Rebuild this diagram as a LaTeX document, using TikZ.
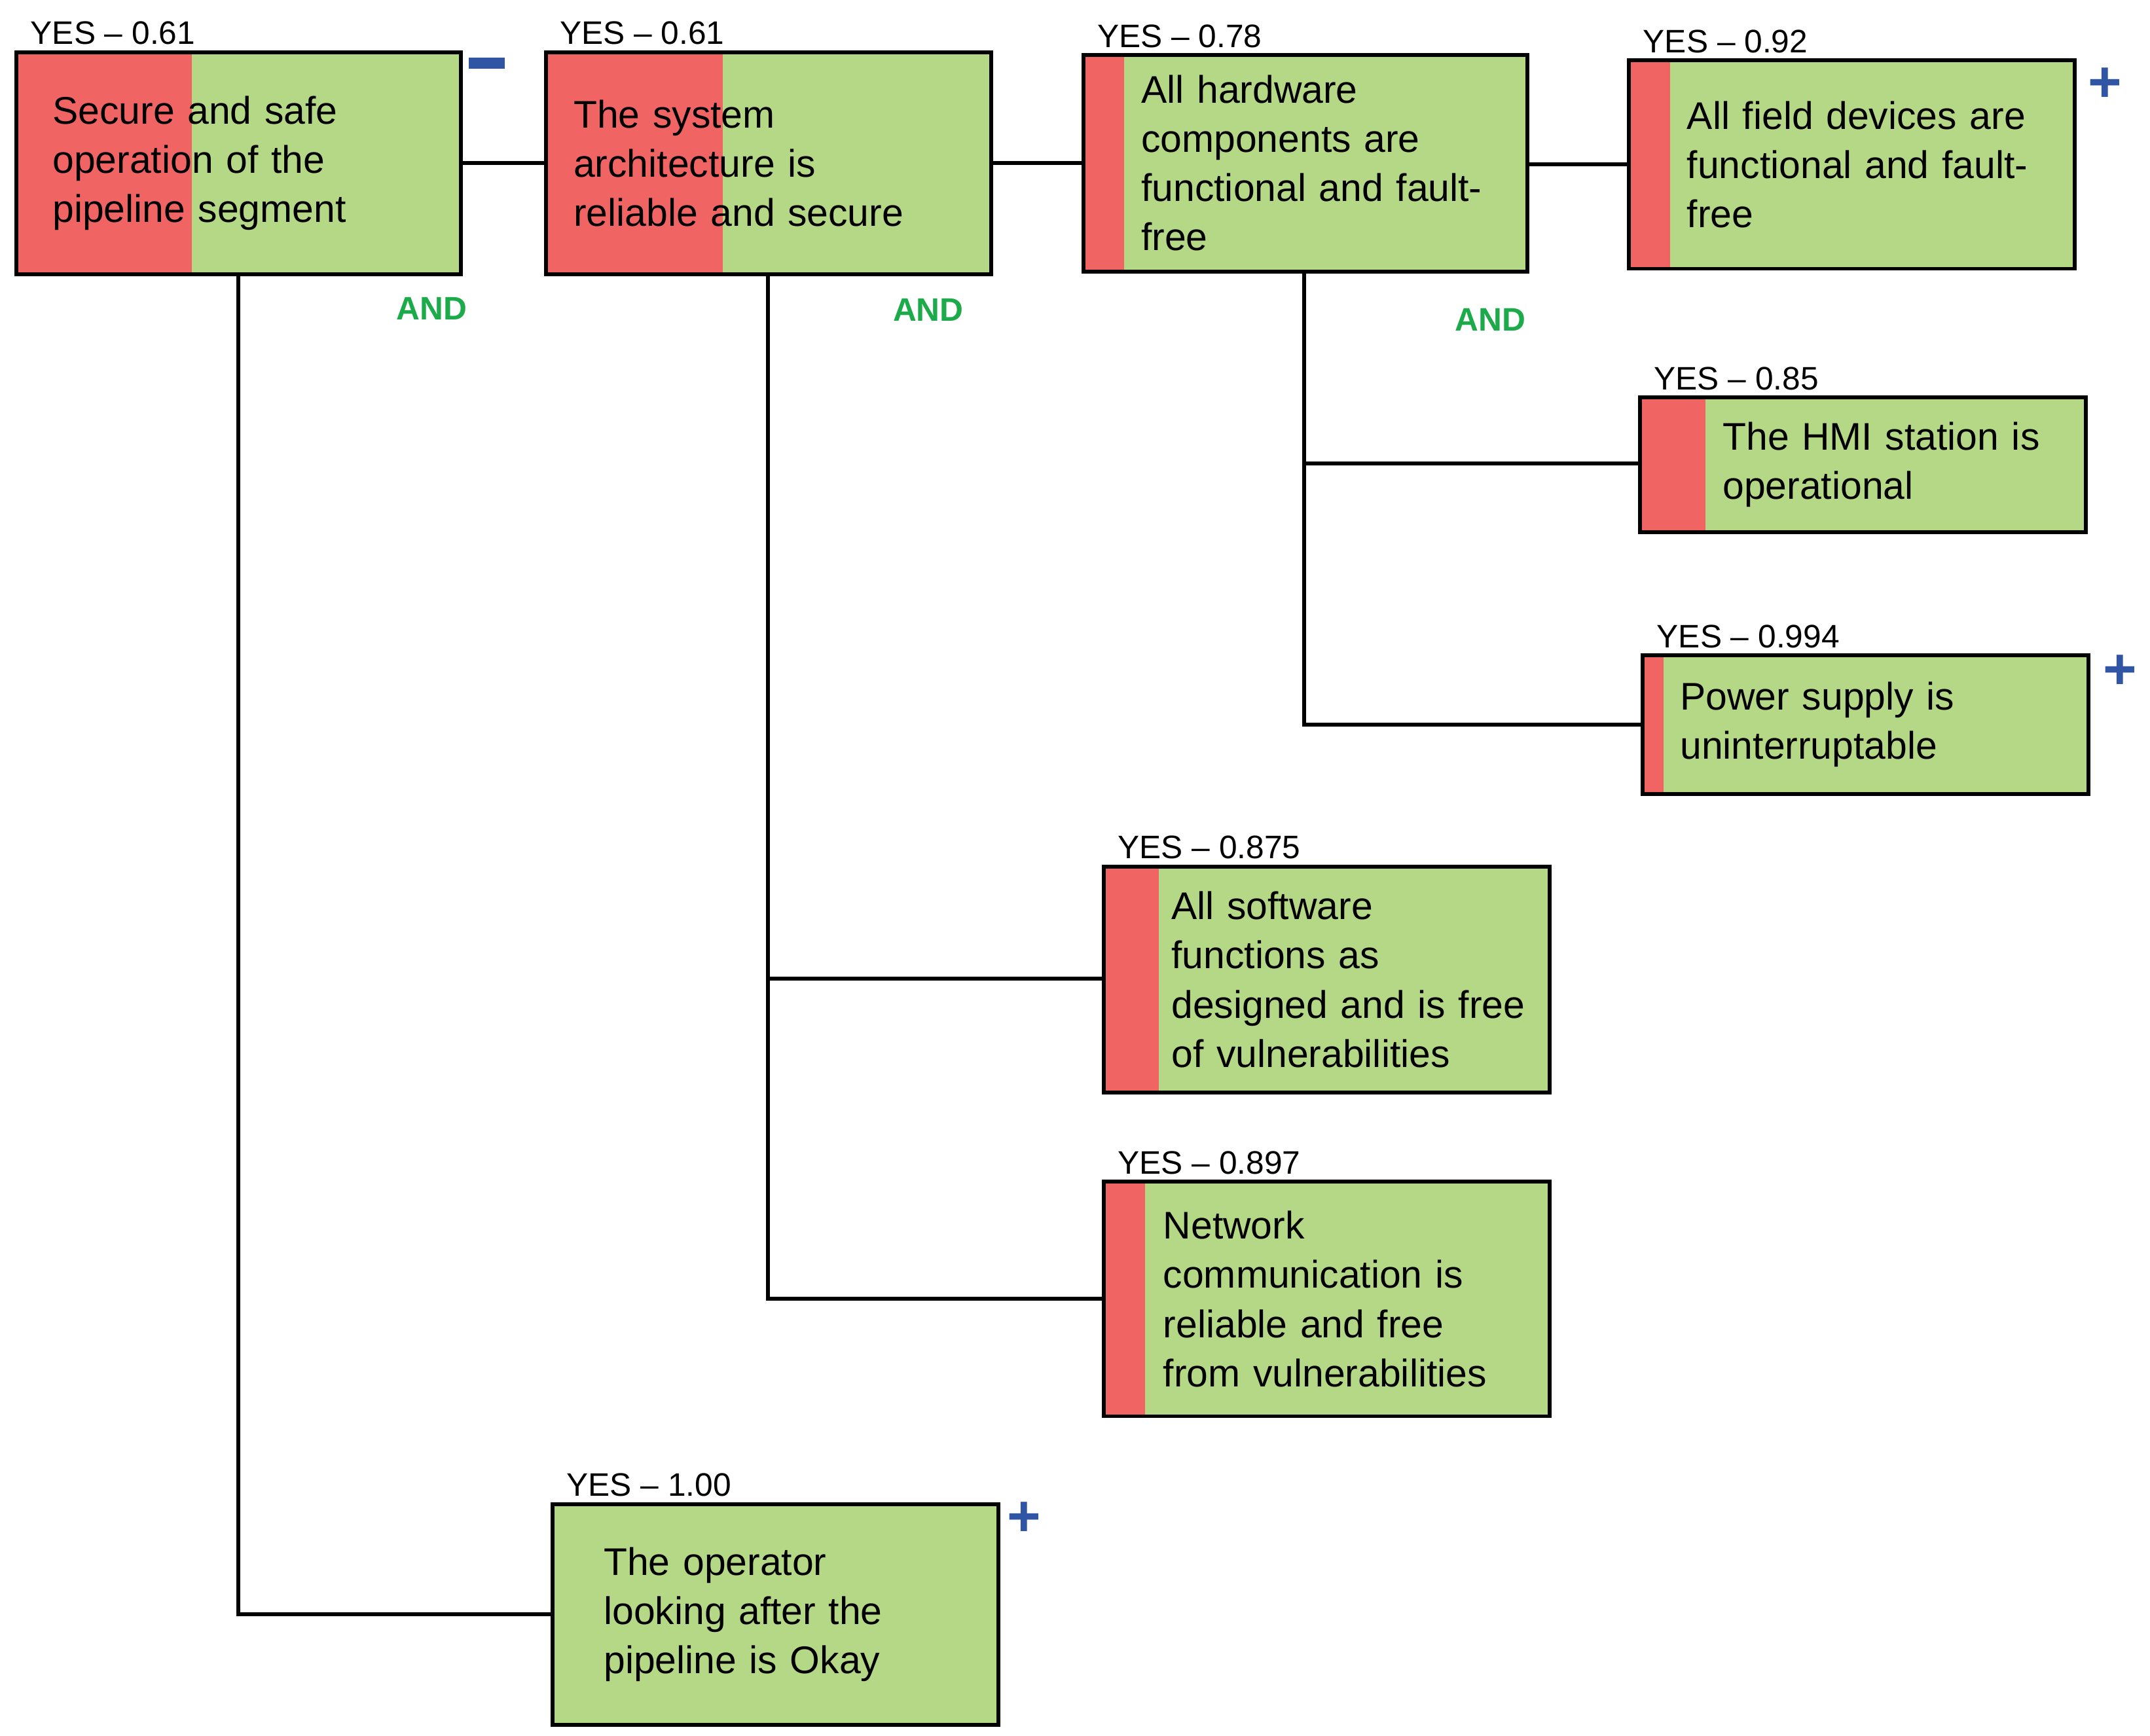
\documentclass[tikz,border=0pt]{standalone}
\usepackage{fontspec}
\setmainfont{Liberation Sans}
\definecolor{gfill}{HTML}{B5D886}
\definecolor{rfill}{HTML}{F06464}
\definecolor{andc}{HTML}{1DAA4A}
\definecolor{signc}{HTML}{2F55A4}
\begin{document}
\begin{tikzpicture}[x=0.02cm,y=-0.02cm,
  edge/.style={line width=1.6pt},
  lbl/.style={anchor=south west,inner sep=0pt,font=\fontsize{13.5}{15}\selectfont},
  txt/.style={anchor=west,inner sep=0pt,align=left,font=\fontsize{16}{20.4}\selectfont},
  andl/.style={text=andc,font=\bfseries\fontsize{13.5}{15}\selectfont},
  sgn/.style={text=signc,font=\bfseries\fontsize{24}{24}\selectfont,inner sep=0pt}]
\useasboundingbox (0,0) rectangle (1568,1266);
\newcommand\gbox[9]{%
  \fill[gfill] (#2,#3) rectangle (#4,#5);
  \fill[rfill] (#2,#3) rectangle (#6,#5);
  \draw[line width=1.6pt] (#2,#3) rectangle (#4,#5);
  \coordinate (#1-w) at (#2,{(#3+#5)/2});
  \coordinate (#1-e) at (#4,{(#3+#5)/2});
  \node[txt,text width={(#4-#7-4)*0.02cm}] (#1-t) at (#7,{(#3+#5)/2}) {#8};
  \node[lbl] (#1-l) at (#2+10,#3-5) {#9};
}
\gbox{b1}{12}{38}{336}{200}{140}{38}{Secure and safe\\operation of the\\pipeline segment}{YES -- 0.61}
\gbox{b2}{398}{38}{723}{200}{527}{418}{The system\\architecture is\\reliable and secure}{YES -- 0.61}
\gbox{b3}{790}{40}{1114}{198}{820}{832}{All hardware\\components are\\functional and fault-\\free}{YES -- 0.78}
\gbox{b4}{1188}{44}{1513}{196}{1218}{1230}{All field devices are\\functional and fault-\\free}{YES -- 0.92}
\gbox{b5}{1196}{290}{1521}{388}{1244}{1256}{The HMI station is\\operational}{YES -- 0.85}
\gbox{b6}{1198}{478}{1523}{579}{1213}{1225}{Power supply is\\uninterruptable}{YES -- 0.994}
\gbox{b7}{805}{632}{1130}{797}{845}{854}{All software\\functions as\\designed and is free\\of vulnerabilities}{YES -- 0.875}
\gbox{b8}{805}{862}{1130}{1033}{835}{848}{Network\\communication is\\reliable and free\\from vulnerabilities}{YES -- 0.897}
\gbox{b9}{403}{1097}{728}{1258}{403}{440}{The operator\\looking after the\\pipeline is Okay}{YES -- 1.00}
% connectors
\draw[edge] (b1-e) -- (b2-w);
\draw[edge] (b2-e) -- (b3-w);
\draw[edge] (1114,120) -- (b4-w);
\coordinate (c1) at (174,200);
\draw[edge] (c1) |- (b9-w);
\coordinate (c2) at (560,200);
\draw[edge] (c2) |- (b8-w);
\draw[edge] (560,714) -- (805,714);
\coordinate (c3) at (951,198);
\draw[edge] (c3) |- (b6-w);
\draw[edge] (951,338) -- (1196,338);
% AND labels and signs
\node[andl] (a1) at (315,225) {AND};
\node[andl] (a2) at (677,226) {AND};
\node[andl] (a3) at (1087,233) {AND};
\fill[signc] (342,42) rectangle (368,50);
\node[sgn] (p1) at (1535,62) {+};
\node[sgn] (p2) at (1546,490) {+};
\node[sgn] (p3) at (747,1108) {+};
\end{tikzpicture}
\end{document}
